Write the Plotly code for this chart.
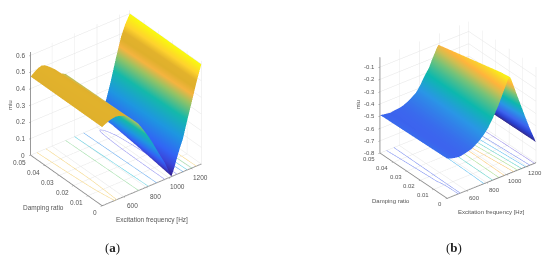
import plotly.graph_objects as go

damping = [0.0, 0.05]
parula_a = [[0,"#35208F"],[.09,"#3A48DC"],[.17,"#3264F5"],[.33,"#1E96E1"],[.5,"#14B9AA"],[.64,"#96C364"],[.72,"#F5B440"],[.79,"#DFB02C"],[.85,"#E2B22C"],[.91,"#FFD32D"],[1,"#F9FB0E"]]
parula_b = [[0,"#352A87"],[.1,"#2A40D0"],[.22,"#3C64EE"],[.38,"#2A96E6"],[.54,"#0CB8AE"],[.70,"#78C378"],[.80,"#D2BE50"],[.86,"#FFB43C"],[.93,"#FAD22D"],[1,"#F9FB0E"]]

levels_a = [.1,.2,.3,.4,.5]
level_colors_a = ["#8C8CF0","#5AA5F0","#50CDE1","#96DCA0","#F5D278"]
levels_b = [-.6,-.5,-.4,-.3,-.2,-.1]
level_colors_b = ["#9082E6","#6E82F0","#50B9F0","#50CDC3","#A0DC82","#FAC364"]

# panel (a): index-matched points along the two edges of the surface
freq_a_z0 = [409,440,470,500,530,560,600,650,700,732,776,820,857,893,930,966,995,1012,1025,1036,1050,1075,1100,1128,1166,1207,1246,1291]
mu_a_z0   = [.472,.484,.493,.498,.501,.497,.486,.462,.425,.400,.352,.300,.252,.200,.148,.100,.050,.020,.002,.020,.045,.100,.150,.200,.300,.400,.500,.600]
freq_a_z5 = [409,430,450,480,507,535,575,625,680,720,760,800,840,880,920,950,972,982,992,1010,1040,1079,1100,1123,1167,1212,1252,1291]
mu_a_z5   = [.472,.484,.494,.506,.511,.505,.485,.455,.415,.400,.350,.300,.250,.200,.150,.120,.110,.106,.105,.106,.114,.138,.190,.246,.367,.480,.550,.600]

# panel (b)
freq_b_z0 = [409,440,470,500,530,556,600,650,686,730,780,816,860,914,960,990,1010,1028,1045,1065,1100,1140,1180,1230,1291]
mu_b_z0   = [-.477,-.485,-.493,-.498,-.501,-.498,-.490,-.478,-.460,-.435,-.395,-.360,-.300,-.218,-.130,-.075,-.035,-.008,-.040,-.090,-.180,-.280,-.380,-.500,-.633]
freq_b_z5 = [409,440,474,510,547,575,610,638,680,720,767,810,850,898,930,955,975,990,1005,1025,1060,1100,1140,1200,1291]
mu_b_z5   = [-.490,-.496,-.500,-.505,-.500,-.497,-.494,-.488,-.472,-.452,-.425,-.375,-.320,-.260,-.200,-.160,-.125,-.110,-.125,-.160,-.230,-.320,-.410,-.520,-.640]

freq_ticks = [600,800,1000,1200]
damp_ticks = [0,0.01,0.02,0.03,0.04,0.05]
mu_ticks_a = [0,.1,.2,.3,.4,.5,.6]
mu_ticks_b = [-.8,-.7,-.6,-.5,-.4,-.3,-.2,-.1]

GRID="#e4e4e4"; LINE="#8a8a8a"; TXT="#555555"; FONT="Liberation Sans"
def axis(rng, ticks):
    return dict(range=rng, tickvals=ticks, showbackground=False, gridcolor=GRID, gridwidth=1,
           showline=True, linecolor=LINE, linewidth=2, ticks="outside", ticklen=2, tickcolor=LINE,
           showticklabels=False, title=dict(text=""), zeroline=False, showspikes=False)

LIGHT=dict(ambient=1,diffuse=0,specular=0,roughness=1,fresnel=0)
DROP=1.0  # contour carrier sits below the axis box, so only its floor projection shows

fig=go.Figure()
def add(fz0,mz0,fz5,mz5,cs,cmin,cmax,levels,cols,sc):
    xs=[fz0,fz5]; ys=[[damping[0]]*len(fz0),[damping[1]]*len(fz5)]
    fig.add_surface(x=xs,y=ys,z=[mz0,mz5],colorscale=cs,cmin=cmin,cmax=cmax,showscale=False,lighting=LIGHT,scene=sc,hoverinfo="skip")
    for lv,col in zip(levels,cols):
        fig.add_surface(x=xs,y=ys,z=[[v-DROP for v in mz0],[v-DROP for v in mz5]],showscale=False,
            hidesurface=True,lighting=LIGHT,scene=sc,hoverinfo="skip",
            contours=dict(z=dict(show=True,start=lv-DROP,end=lv-DROP+.05,size=.1,usecolormap=False,color=col,width=1,project=dict(z=True))))
add(freq_a_z0,mu_a_z0,freq_a_z5,mu_a_z5,parula_a,0,.6,levels_a,level_colors_a,"scene")
add(freq_b_z0,mu_b_z0,freq_b_z5,mu_b_z5,parula_b,-.64,-.01,levels_b,level_colors_b,"scene2")

def tick_notes(zr,zt,sx,sy,dx,dy,zx,size):
    f=dict(size=size,color=TXT,family=FONT)
    n=[dict(x=v,y=0,z=zr[0],text=str(v),xshift=sx,yshift=-sy,xanchor="center",yanchor="middle") for v in freq_ticks]
    n+=[dict(x=409,y=v,z=zr[0],text=str(v),xshift=dx,yshift=-dy,xanchor="right",yanchor="middle") for v in damp_ticks]
    n+=[dict(x=409,y=.05,z=v,text=("%.1f"%v if v else "0"),xshift=zx,yshift=0,xanchor="right",yanchor="middle") for v in zt]
    for a in n: a.update(showarrow=False,font=f)
    return n

def scene(dom,xr,zr,zt,asp,eye,notes):
    return dict(domain=dom,xaxis=axis(xr,freq_ticks),yaxis=axis([0,.05],damp_ticks),zaxis=axis(zr,zt),
        aspectmode="manual",aspectratio=asp,bgcolor="white",annotations=notes,
        camera=dict(projection=dict(type="orthographic"),eye=eye,center=dict(x=0,y=0,z=0),up=dict(x=0,y=0,z=1)))

W,H=550,257
ka,kb=1.329,1.466
fig.update_layout(width=W,height=H,margin=dict(l=0,r=0,t=0,b=0),paper_bgcolor="white",showlegend=False,
    scene=scene(dict(x=[0,232/W],y=[1-216/H,1]),[409,1291],[0,.62],mu_ticks_a,dict(x=1.16,y=1.085,z=1.14),dict(x=-.61*ka,y=-.79*ka,z=.65*ka),
                tick_notes([0,.62],mu_ticks_a,9,9,-3,7,-4,6.5)),
    scene2=scene(dict(x=[366/W,1],y=[1-220/H,1]),[409,1291],[-.8,-.02],mu_ticks_b,dict(x=1.02,y=1,z=1.02),dict(x=-.61*kb,y=-.79*kb,z=.608*kb),
                tick_notes([-.8,-.02],mu_ticks_b,8,7,-3,6,-3,6)),
    annotations=[
      dict(text="miu",x=10,y=105,textangle=-90,font=dict(size=6,color=TXT,family=FONT)),
      dict(text="Damping ratio",x=43,y=208,font=dict(size=6.5,color=TXT,family=FONT)),
      dict(text="Excitation frequency [Hz]",x=152,y=220,font=dict(size=6.5,color=TXT,family=FONT)),
      dict(text="miu",x=358,y=105,textangle=-90,font=dict(size=5.5,color=TXT,family=FONT)),
      dict(text="Damping ratio",x=391,y=201,font=dict(size=6,color=TXT,family=FONT)),
      dict(text="Excitation frequency [Hz]",x=491.5,y=212,font=dict(size=6,color=TXT,family=FONT)),
      dict(text="(<b>a</b>)",x=112,y=247,font=dict(size=13,color="#222",family="Liberation Serif")),
      dict(text="(<b>b</b>)",x=454,y=247,font=dict(size=13,color="#222",family="Liberation Serif")),
    ])
for a in fig.layout.annotations:
    a.update(xref="paper",yref="paper",showarrow=False,x=a.x/W,y=1-a.y/H,xanchor="center",yanchor="middle")
fig.write_html("out.html",post_script="document.body.style.margin='0';",config=dict(displayModeBar=False))
